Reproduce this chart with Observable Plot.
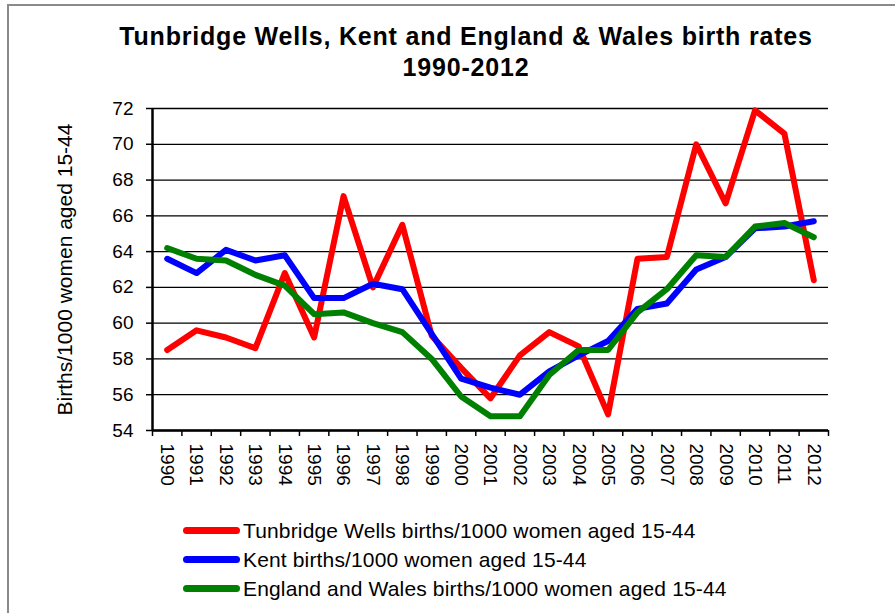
<!DOCTYPE html>
<html>
<head>
<meta charset="utf-8">
<script src="https://cdn.jsdelivr.net/npm/d3@7"></script>
<script src="https://cdn.jsdelivr.net/npm/@observablehq/plot@0.6"></script>
<style>
  html, body { margin: 0; padding: 0; background: #fff; }
  #wrap { position: relative; width: 895px; height: 613px; overflow: hidden; font-family: "Liberation Sans", Arial, sans-serif; }
  #frame { position: absolute; left: 7px; top: 4px; width: 1000px; height: 1000px; border: 2px solid #8a8a8a; box-sizing: border-box; }
  #title { position: absolute; left: 0; width: 932px; top: 21px; text-align: center; font-weight: bold; font-size: 25px; letter-spacing: 0.8px; line-height: 31px; color: #000; }
  #chart { position: absolute; left: 0; top: 90px; }
  #legend { position: absolute; left: 183px; top: 516px; font-size: 21px; letter-spacing: 0.15px; color: #000; }
  .item { display: flex; align-items: center; height: 29px; }
  .sw { width: 57px; height: 7px; border-radius: 4px; margin-right: 3px; }
</style>
</head>
<body>
<div id="wrap">
  <div id="frame"></div>
  <div id="title">Tunbridge Wells, Kent and England &amp; Wales birth rates<br>1990-2012</div>
  <div id="chart"></div>
  <div id="legend"></div>
</div>
<script>
const years = [1990,1991,1992,1993,1994,1995,1996,1997,1998,1999,2000,2001,2002,2003,2004,2005,2006,2007,2008,2009,2010,2011,2012];
const tunbridgeWells = [58.5,59.6,59.2,58.6,62.8,59.2,67.1,62.0,65.5,59.3,57.5,55.8,58.2,59.5,58.7,54.9,63.6,63.7,70.0,66.7,71.9,70.6,62.4];
const kent = [63.6,62.8,64.1,63.5,63.8,61.4,61.4,62.2,61.9,59.4,56.9,56.4,56.0,57.3,58.2,59.0,60.8,61.1,63.0,63.7,65.3,65.4,65.7];
const englandWales = [64.2,63.6,63.5,62.7,62.1,60.5,60.6,60.0,59.5,58.0,55.9,54.8,54.8,57.1,58.5,58.5,60.6,61.9,63.8,63.7,65.4,65.6,64.8];
const seriesNames = ["Tunbridge Wells births/1000 women aged 15-44", "Kent births/1000 women aged 15-44", "England and Wales births/1000 women aged 15-44"];
const seriesColors = ["#ff0000", "#0000ff", "#008000"];
const yTicks = [54,56,58,60,62,64,66,68,70,72];
const yLabel = "Births/1000 women aged 15-44";

const seriesValues = [tunbridgeWells, kent, englandWales];
const tables = seriesValues.map(vals => years.map((year, i) => ({year, value: vals[i]})));
const bounds = years.map(y => y - 0.5).concat([years[years.length - 1] + 0.5]);

const chart = Plot.plot({
  width: 895,
  height: 410,
  marginLeft: 152,
  marginRight: 67,
  marginTop: 18,
  marginBottom: 70,
  style: { fontFamily: "'Liberation Sans', Arial, sans-serif", fontSize: "19px", color: "#000", background: "transparent", overflow: "visible" },
  x: { type: "linear", domain: [bounds[0], bounds[bounds.length - 1]] },
  y: { domain: [yTicks[0], yTicks[yTicks.length - 1]] },
  marks: [
    Plot.gridY(yTicks, { stroke: "#000", strokeOpacity: 1, strokeWidth: 1.3 }),
    Plot.axisY(yTicks, { tickSize: 6, tickPadding: 13, strokeWidth: 1.5, fontSize: 19, label: null }),
    Plot.axisY([], { tickSize: 0, fontSize: 21, label: yLabel, labelAnchor: "center", labelOffset: 95, labelArrow: "none" }),
    Plot.axisX(bounds, { tickSize: 6, tickFormat: () => "", strokeWidth: 1.5, label: null }),
    Plot.axisX(years, { tickSize: 0, tickPadding: 13, tickRotate: 90, tickFormat: d => String(d), fontSize: 19, label: null }),
    Plot.ruleX([bounds[0]], { stroke: "#000", strokeWidth: 2.5 }),
    Plot.ruleY([yTicks[0]], { stroke: "#000", strokeWidth: 2.5 }),
    ...tables.map((t, i) => Plot.line(t, { x: "year", y: "value", stroke: seriesColors[i], strokeWidth: 6, strokeLinejoin: "round", strokeLinecap: "round" }))
  ]
});
document.getElementById("chart").appendChild(chart);

const legend = document.getElementById("legend");
seriesNames.forEach((name, i) => {
  const item = document.createElement("div");
  item.className = "item";
  const sw = document.createElement("div");
  sw.className = "sw";
  sw.style.background = seriesColors[i];
  const label = document.createElement("span");
  label.textContent = name;
  item.appendChild(sw);
  item.appendChild(label);
  legend.appendChild(item);
});
</script>
</body>
</html>
